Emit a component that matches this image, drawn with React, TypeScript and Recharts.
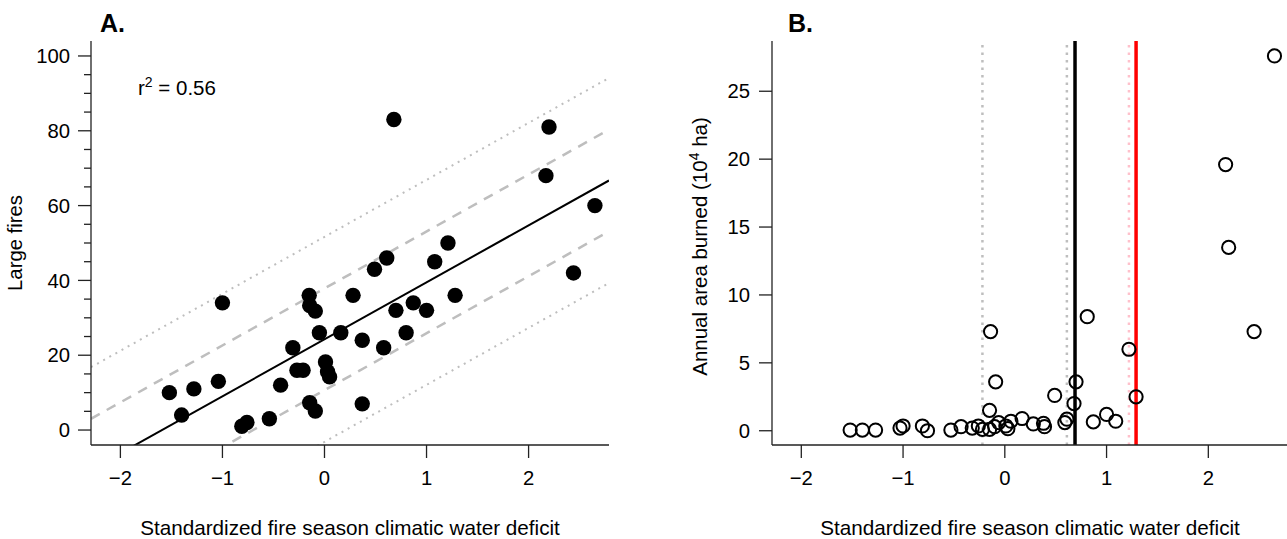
import React from 'react';
import { ScatterChart, Scatter, XAxis, YAxis, ReferenceLine } from 'recharts';

const FONT = '"Liberation Sans", Arial, Helvetica, sans-serif';
const AXIS = '#222';

// Panel A: standardized CWD vs number of large fires
const cwdA = [-1.52, -1.40, -1.28, -1.04, -1.00, -0.81, -0.76, -0.54, -0.43, -0.31, -0.27, -0.21, -0.15, -0.145, -0.09, -0.145, -0.09, -0.05, 0.01, 0.03, 0.05, 0.16, 0.28, 0.37, 0.37, 0.49, 0.58, 0.61, 0.68, 0.70, 0.80, 0.87, 1.00, 1.08, 1.21, 1.28, 2.17, 2.20, 2.44, 2.65];
const largeFires = [10, 4, 11, 13, 34, 1, 2, 3, 12, 22, 16, 16, 36, 33.3, 31.8, 7.3, 5.1, 26, 18.2, 15.6, 14.2, 26, 36, 24, 7, 43, 22, 46, 83, 32, 26, 34, 32, 45, 50, 36, 68, 81, 42, 60];

// Panel B: standardized CWD vs annual area burned (10^4 ha)
const cwdB = [-1.52, -1.40, -1.27, -1.03, -1.00, -0.81, -0.76, -0.53, -0.43, -0.32, -0.26, -0.22, -0.15, -0.14, -0.15, -0.09, -0.10, -0.06, 0.01, 0.03, 0.06, 0.17, 0.28, 0.38, 0.39, 0.49, 0.59, 0.61, 0.68, 0.70, 0.81, 0.87, 1.00, 1.09, 1.22, 1.29, 2.17, 2.20, 2.45, 2.65];
const areaBurned = [0.05, 0.05, 0.05, 0.2, 0.35, 0.35, 0.0, 0.05, 0.3, 0.2, 0.35, 0.1, 1.5, 7.3, 0.1, 3.6, 0.3, 0.6, 0.35, 0.15, 0.7, 0.9, 0.5, 0.55, 0.3, 2.6, 0.6, 0.85, 2.0, 3.6, 8.4, 0.65, 1.2, 0.7, 6.0, 2.5, 19.6, 13.5, 7.3, 27.6];

const xTicks = [-2, -1, 0, 1, 2];
const xDomain: [number, number] = [-2.288, 2.788];
const yMajorA = [0, 20, 40, 60, 80, 100];
const yMinorA = [5, 10, 15, 25, 30, 35, 45, 50, 55, 65, 70, 75, 85, 90, 95];
const yDomainA: [number, number] = [-4, 104];
const yTicksB = [0, 5, 10, 15, 20, 25];
const yDomainB: [number, number] = [-1.05, 28.7];

// Regression fit and bands (panel A)
const fitIntercept = 24.25;
const fitSlope = 15.23;
const innerBand = 13.6;
const outerBand = 27.4;

// Threshold lines (panel B)
const blackThreshold = 0.69;
const blackCI = [-0.22, 0.61];
const redThreshold = 1.29;
const redCI = [1.22];

const dataA = cwdA.map((x, i) => ({ x, y: largeFires[i] }));
const dataB = cwdB.map((x, i) => ({ x, y: areaBurned[i] }));
const yTicksA = [...yMajorA, ...yMinorA].sort((a, b) => a - b);

const seg = (offset: number) =>
  xDomain.map((x) => ({ x, y: fitIntercept + fitSlope * x + offset }));

const fmt = (v: number) => (v < 0 ? '\u2212' + Math.abs(v) : String(v));

const XTick = (props: any) => {
  const { x, y, payload } = props;
  return (
    <g>
      <line x1={x} x2={x} y1={y} y2={y + 13} stroke={AXIS} strokeWidth={1.3} />
      <text x={x} y={y + 40} textAnchor="middle" fontSize={20.3} fontFamily={FONT} fill="#000">
        {fmt(payload.value)}
      </text>
    </g>
  );
};

const YTickA = (props: any) => {
  const { x, y, payload } = props;
  const major = yMajorA.includes(payload.value);
  return (
    <g>
      <line x1={x - (major ? 13 : 7)} x2={x} y1={y} y2={y} stroke={AXIS} strokeWidth={1.3} />
      {major && (
        <text x={x - 21} y={y} dy="0.355em" textAnchor="end" fontSize={20.3} fontFamily={FONT} fill="#000">
          {payload.value}
        </text>
      )}
    </g>
  );
};

const YTickB = (props: any) => {
  const { x, y, payload } = props;
  return (
    <g>
      <line x1={x - 13} x2={x} y1={y} y2={y} stroke={AXIS} strokeWidth={1.3} />
      <text x={x - 22} y={y} dy="0.355em" textAnchor="end" fontSize={20.3} fontFamily={FONT} fill="#000">
        {payload.value}
      </text>
    </g>
  );
};

const axisLine = { stroke: AXIS, strokeWidth: 1.3 };

export default function App() {
  return (
    <div style={{ position: 'absolute', left: 0, top: 0, width: 1287, height: 539, overflow: 'hidden', background: '#fff' }}>
      <div style={{ position: 'absolute', left: 0, top: 0 }}>
        <ScatterChart width={640} height={539} margin={{ top: 41, right: 31, bottom: 0, left: 0 }}>
          <XAxis type="number" dataKey="x" domain={xDomain} allowDataOverflow ticks={xTicks} interval={0}
            height={94} tickSize={0} tickMargin={0} tickLine={false} axisLine={axisLine} tick={<XTick />} />
          <YAxis type="number" dataKey="y" domain={yDomainA} allowDataOverflow ticks={yTicksA} interval={0}
            width={91} tickSize={0} tickMargin={0} tickLine={false} axisLine={axisLine} tick={<YTickA />} />
          <ReferenceLine segment={seg(outerBand)} ifOverflow="hidden" stroke="#bebebe" strokeWidth={2} strokeDasharray="2 5" />
          <ReferenceLine segment={seg(-outerBand)} ifOverflow="hidden" stroke="#bebebe" strokeWidth={2} strokeDasharray="2 5" />
          <ReferenceLine segment={seg(innerBand)} ifOverflow="hidden" stroke="#bebebe" strokeWidth={2.5} strokeDasharray="10 8" />
          <ReferenceLine segment={seg(-innerBand)} ifOverflow="hidden" stroke="#bebebe" strokeWidth={2.5} strokeDasharray="10 8" />
          <ReferenceLine segment={seg(0)} ifOverflow="hidden" stroke="#000" strokeWidth={2} />
          <Scatter data={dataA} isAnimationActive={false}
            shape={(p: any) => <circle cx={p.cx} cy={p.cy} r={7.7} fill="#000" />} />
        </ScatterChart>
      </div>
      <div style={{ position: 'absolute', left: 640, top: 0 }}>
        <ScatterChart width={660} height={539} margin={{ top: 41, right: 11.5, bottom: 0, left: 0 }}>
          <XAxis type="number" dataKey="x" domain={xDomain} allowDataOverflow ticks={xTicks} interval={0}
            height={94} tickSize={0} tickMargin={0} tickLine={false} axisLine={axisLine} tick={<XTick />} />
          <YAxis type="number" dataKey="y" domain={yDomainB} allowDataOverflow ticks={yTicksB} interval={0}
            width={132} tickSize={0} tickMargin={0} tickLine={false} axisLine={axisLine} tick={<YTickB />} />
          <Scatter data={dataB} isAnimationActive={false}
            shape={(p: any) => <circle cx={p.cx} cy={p.cy} r={6.6} fill="none" stroke="#000" strokeWidth={2} />} />
          {blackCI.map((v) => (
            <ReferenceLine key={'bci' + v} x={v} stroke="#bebebe" strokeWidth={2.5} strokeDasharray="2.5 5" />
          ))}
          <ReferenceLine x={blackThreshold} stroke="#000" strokeWidth={3.5} />
          {redCI.map((v) => (
            <ReferenceLine key={'rci' + v} x={v} stroke="#ffc0cb" strokeWidth={2.5} strokeDasharray="2.5 5" />
          ))}
          <ReferenceLine x={redThreshold} stroke="#ff0000" strokeWidth={3.5} />
        </ScatterChart>
      </div>
      <svg width={1287} height={539} style={{ position: 'absolute', left: 0, top: 0, pointerEvents: 'none' }}>
        <g fontFamily={FONT} fill="#000">
          <text x={100} y={32} fontSize={25} fontWeight="bold">A.</text>
          <text x={788} y={32} fontSize={25} fontWeight="bold">B.</text>
          <text x={138} y={95} fontSize={20.5}>
            r<tspan fontSize={14} dy={-8}>2</tspan><tspan dy={8}> = 0.56</tspan>
          </text>
          <text x={22} y={243} fontSize={20.3} textAnchor="middle" transform="rotate(-90 22 243)">Large fires</text>
          <text x={707} y={246.5} fontSize={20.5} textAnchor="middle" transform="rotate(-90 707 246.5)">
            Annual area burned (10<tspan fontSize={14} dy={-8}>4</tspan><tspan dy={8}> ha)</tspan>
          </text>
          <text x={350} y={535} fontSize={20.7} textAnchor="middle">Standardized fire season climatic water deficit</text>
          <text x={1030} y={535} fontSize={20.7} textAnchor="middle">Standardized fire season climatic water deficit</text>
        </g>
      </svg>
    </div>
  );
}
